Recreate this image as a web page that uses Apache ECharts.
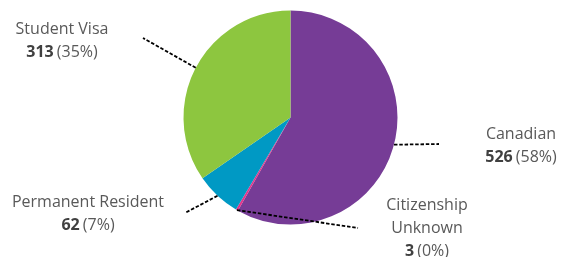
<!DOCTYPE html>
<html><head><meta charset="utf-8">
<script src="https://cdn.jsdelivr.net/npm/echarts@6/dist/echarts.min.js"></script>
<style>html,body{margin:0;padding:0;background:#fff}#c{width:562px;height:257px}</style>
</head><body><div id="c"></div>
<script>
const categories = ['Canadian', 'Citizenship\nUnknown', 'Permanent Resident', 'Student Visa'];
const values = [526, 3, 62, 313];
const colors = ['#763C96', '#E5338A', '#0099C4', '#8DC63F'];
// layout only (positions, not data)
const CENTER = [290.5, 117.5];
const RADIUS = 107;
const labelPos = [
  {x: 521, y: 146, end: [439, 144]},
  {x: 427, y: 228, end: [358, 228]},
  {x: 88, y: 214, end: [185, 213]},
  {x: 62, y: 41, end: [143, 38]}
];
const total = values.reduce((a, b) => a + b, 0);
function edgePoint(i) {
  let before = 0;
  for (let k = 0; k < i; k++) before += values[k];
  const mid = (before + values[i] / 2) / total * Math.PI * 2;
  return [CENTER[0] + RADIUS * Math.sin(mid), CENTER[1] - RADIUS * Math.cos(mid)];
}
const pieData = categories.map((c, i) => ({name: c, value: values[i]}));
const chart = echarts.init(document.getElementById('c'), null, {renderer: 'canvas'});
chart.setOption({
  animation: false,
  series: [{
    type: 'pie',
    z: 1,
    center: CENTER,
    radius: [0, RADIUS],
    startAngle: 90,
    clockwise: true,
    color: colors,
    data: pieData,
    itemStyle: {borderWidth: 0},
    label: {show: false},
    labelLine: {show: false}
  }, {
    type: 'pie',
    z: 5,
    silent: true,
    center: CENTER,
    radius: [0, RADIUS],
    startAngle: 90,
    clockwise: true,
    data: pieData,
    itemStyle: {color: 'rgba(0,0,0,0)', borderWidth: 0},
    label: {
      show: true,
      position: 'outside',
      fontFamily: 'Open Sans',
      formatter: p => '{n|' + p.name.split('\n').join('}\n{n|') + '}\n{b|' + p.value + '} {n|(' + Math.round(p.percent) + '%)}',
      rich: {
        n: {fontFamily: 'Open Sans', fontSize: 16, color: '#595959', lineHeight: 23},
        b: {fontFamily: 'Open Sans', fontSize: 16, color: '#404040', fontWeight: 'bold', lineHeight: 23}
      },
      align: 'center'
    },
    labelLine: {show: true, length: 10, length2: 10, maxSurfaceAngle: 180, minTurnAngle: 0,
      lineStyle: {color: '#000', width: 1.8, type: [3.5, 1.8]}},
    labelLayout: function (params) {
      const lp = labelPos[params.dataIndex];
      return {x: lp.x, y: lp.y, align: 'center', verticalAlign: 'middle', labelLinePoints: [edgePoint(params.dataIndex), lp.end]};
    }
  }]
});
</script></body></html>
